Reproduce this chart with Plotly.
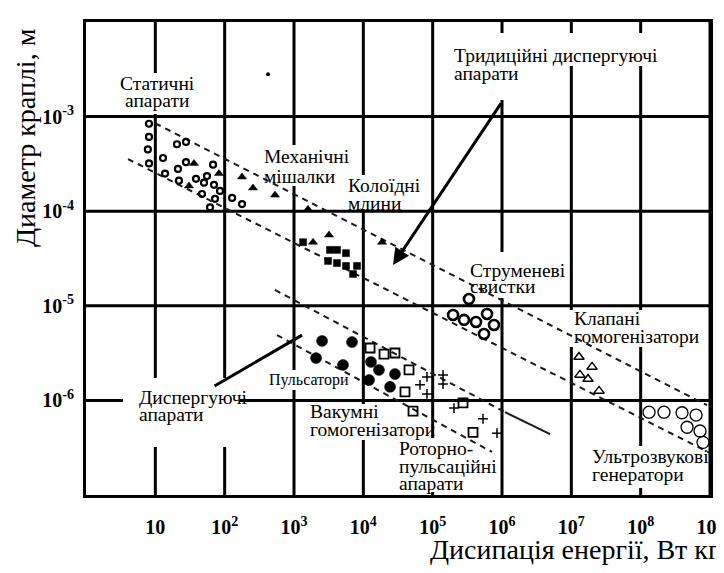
import numpy as np
import plotly.graph_objects as go

# ---------------- data ----------------
x_tickvals = [1e1, 1e2, 1e3, 1e4, 1e5, 1e6, 1e7, 1e8, 1e9]
x_ticktext = ["10", "10<sup>2</sup>", "10<sup>3</sup>", "10<sup>4</sup>", "10<sup>5</sup>",
              "10<sup>6</sup>", "10<sup>7</sup>", "10<sup>8</sup>", "10<sup>9</sup>"]
y_tickvals = [1e-6, 1e-5, 1e-4, 1e-3]
y_ticktext = ["10<sup>-6</sup>", "10<sup>-5</sup>", "10<sup>-4</sup>", "10<sup>-3</sup>"]

static_x = [8.1, 8.1, 7.8, 8.1, 20.5, 27.7, 12.9, 27.7, 68, 13.8, 21.2, 21.9, 38.6, 55.6,
            50.3, 70.2, 85.7, 47.1, 72.6, 61.5, 128, 178]
static_y = [8.4e-4, 6.1e-4, 4.5e-4, 3.2e-4, 5.1e-4, 5.4e-4, 3.65e-4, 3.3e-4, 3.1e-4, 2.5e-4,
            2.8e-4, 2.1e-4, 2.2e-4, 2.35e-4, 2.0e-4, 1.9e-4, 1.64e-4, 1.52e-4, 1.35e-4,
            1.1e-4, 1.38e-4, 1.19e-4]

mixer_x = [36.1, 82.8, 30.6, 178, 256, 532, 1590, 3200, 1880, 18600]
mixer_y = [3.2e-4, 2.5e-4, 1.85e-4, 2.3e-4, 1.76e-4, 1.48e-4, 1.05e-4, 5.6e-5, 4.7e-5, 4.7e-5]

mill_x = [1350, 3300, 4170, 5620, 3100, 4170, 5620, 8110, 7100]
mill_y = [4.7e-5, 3.9e-5, 3.9e-5, 3.6e-5, 2.98e-5, 2.83e-5, 2.64e-5, 2.64e-5, 2.17e-5]

pulsator_x = [2540, 6870, 2080, 5090, 12900, 16800, 28600, 12100, 24300]
pulsator_y = [4.25e-6, 4.14e-6, 2.8e-6, 2.37e-6, 2.55e-6, 2.1e-6, 1.9e-6, 1.64e-6, 1.39e-6]

vacuum_x = [12500, 19900, 28600, 45600, 39900, 52100, 2.74e5, 3.82e5]
vacuum_y = [3.58e-6, 3.09e-6, 3.17e-6, 2.1e-6, 1.23e-6, 7.7e-7, 9.4e-7, 4.6e-7]

rotor_x = [82800, 65700, 82800, 1.41e5, 1.41e5, 2.03e5, 5.32e5, 8.47e5]
rotor_y = [1.77e-6, 1.46e-6, 1.17e-6, 1.86e-6, 1.49e-6, 8.3e-7, 6.4e-7, 4.5e-7]

jet_x = [3.34e5, 1.97e5, 2.83e5, 4.22e5, 6.08e5, 7.67e5, 5.5e5]
jet_y = [1.18e-5, 8.0e-6, 7.1e-6, 6.75e-6, 8.2e-6, 6.27e-6, 5.04e-6]

valve_x = [1.29e7, 1.99e7, 1.33e7, 1.74e7, 2.51e7]
valve_y = [2.88e-6, 2.26e-6, 1.86e-6, 1.68e-6, 1.26e-6]

ultra_x = [1.32e8, 2.17e8, 3.95e8, 6.29e8, 4.67e8, 7.18e8, 7.93e8]
ultra_y = [7.5e-7, 7.5e-7, 7.4e-7, 7.0e-7, 5.2e-7, 4.75e-7, 3.6e-7]

speck_x = [422]
speck_y = [2.8e-3]

# band boundaries
trad_upper_x = [10, 9.06e8]
trad_upper_y = [8.5e-4, 8.9e-7]
trad_lower_x = [4.03, 1e9]
trad_lower_y = [3.56e-4, 2.78e-7]
disp_upper_x = [532, 1.11e6]
disp_upper_y = [1.47e-5, 7.5e-7]
disp_upper_solid_x = [1.11e6, 4.93e6]
disp_upper_solid_y = [7.5e-7, 4.4e-7]
disp_lower_x = [569, 7.18e5]
disp_lower_y = [4.9e-6, 2.85e-7]

# pointer arrows (tail -> head)
arrow_trad = dict(tail=(1.0e6, 1.43e-3), head=(2.68e4, 2.7e-5))
arrow_disp = dict(tail=(68, 1.39e-6), head=(1306, 4.9e-6))

# ---------------- figure ----------------
X_RANGE = (0, 9)      # log10 decades
Y_RANGE = (-7, -2)
PAGE_OFF = 8          # default body margin of the html page
W, H = 724 - PAGE_OFF, 573 - PAGE_OFF
L, R, T, B = 78, 14, 14, 78
PW, PH = W - L - R, H - T - B

SERIF = "Liberation Serif"

fig = go.Figure()


def pts(x, y, symbol, size, lw=1.5, color="black"):
    fig.add_trace(go.Scatter(x=x, y=y, mode="markers", showlegend=False, hoverinfo="skip",
                             marker=dict(symbol=symbol, size=size, color=color,
                                         line=dict(color="black", width=lw))))


def dline(x, y, dash="6px,5px", width=2):
    fig.add_trace(go.Scatter(x=x, y=y, mode="lines", showlegend=False, hoverinfo="skip",
                             line=dict(color="#1a1a1a", width=width, dash=dash)))


dline(trad_upper_x, trad_upper_y)
dline(trad_lower_x, trad_lower_y)
dline(disp_upper_x, disp_upper_y)
dline(disp_upper_solid_x, disp_upper_solid_y, dash="solid", width=2)
dline(disp_lower_x, disp_lower_y)

pts(static_x, static_y, "circle-open", 6, lw=2.2)
pts(mixer_x, mixer_y, "triangle-up", 8, lw=0.5)
pts(mill_x, mill_y, "square", 7, lw=0.5)
pts(pulsator_x, pulsator_y, "circle", 11, lw=0.5)
pts(vacuum_x, vacuum_y, "square-open", 9, lw=1.8)
pts(rotor_x, rotor_y, "cross-thin-open", 7, lw=1.5)
pts(jet_x, jet_y, "circle-open", 10, lw=2.6)
pts(valve_x, valve_y, "triangle-up-open", 9, lw=1.5)
pts(ultra_x, ultra_y, "circle-open", 12, lw=1.3)
pts(speck_x, speck_y, "circle", 4, lw=0)


def px2paper(px, py):
    """page pixel position -> paper (= axis domain) coordinates"""
    return (px - PAGE_OFF - L) / PW, (H - B - (py - PAGE_OFF)) / PH


# thick grid at every decade (drawn as shapes under the traces)
for v in x_tickvals:
    f = (np.log10(v) - X_RANGE[0]) / (X_RANGE[1] - X_RANGE[0])
    fig.add_shape(type="line", xref="x domain", yref="y domain", x0=f, x1=f, y0=0, y1=1,
                  line=dict(color="black", width=3), layer="below")
for v in y_tickvals:
    f = (np.log10(v) - Y_RANGE[0]) / (Y_RANGE[1] - Y_RANGE[0])
    fig.add_shape(type="line", xref="x domain", yref="y domain", x0=0, x1=1, y0=f, y1=f,
                  line=dict(color="black", width=3), layer="below")

# white patches where the grid is interrupted behind the labels
patches = [
    (118, 73, 197, 114),    # Статичні апарати
    (259, 145, 348, 186),   # Механічні мішалки
    (343, 175, 418, 209),   # Колоїдні млини
    (448, 33, 656, 66),     # Тридиційні диспергуючі
    (448, 66, 540, 100),    # апарати
    (465, 252, 565, 298),   # Струменеві свистки
    (569, 310, 697, 347),   # Клапані гомогенізатори
    (587, 446, 700, 488),   # Ультрозвукові генератори
    (264, 370, 346, 390),   # Пульсатори
    (305, 404, 423, 440),   # Вакумні гомогенізатори
    (394, 438, 492, 492),   # Роторно-пульсаційні апарати
    (123, 378, 240, 447),   # Диспергуючі апарати
]
for (ax0, ay0, ax1, ay1) in patches:
    x0, y1 = px2paper(ax0, ay0)
    x1, y0 = px2paper(ax1, ay1)
    fig.add_shape(type="rect", xref="x domain", yref="y domain", x0=x0, x1=x1, y0=y0, y1=y1,
                  fillcolor="white", line=dict(width=0), layer="below")

annotations = []
LABEL_SIZE = 19.5


def label(lines, x_px, baselines, size=LABEL_SIZE, anchor="left"):
    for text, bl in zip(lines, baselines):
        xp, yp = px2paper(x_px, bl - 0.33 * size)
        annotations.append(dict(text=text, xref="paper", yref="paper", x=xp, y=yp,
                                xanchor=anchor, yanchor="middle", showarrow=False,
                                font=dict(family=SERIF, size=size, color="black")))


label(["Статичні", "апарати"], 157, [90, 107], anchor="center")
label(["Механічні", "мішалки"], 262, [163, 183])
label(["Колоїдні", "млини"], 346, [192, 210])
label(["Тридиційні диспергуючі", "апарати"], 452, [62, 80])
label(["Струменеві", "свистки"], 468, [277, 293])
label(["Клапані", "гомогенізатори"], 572, [325, 343])
label(["Ультрозвукові", "генератори"], 590, [463, 481])
label(["Пульсатори"], 267, [385], size=16)
label(["Вакумні", "гомогенізатори"], 308, [418, 436])
label(["Роторно-", "пульсаційні", "апарати"], 397, [455, 473, 490])
label(["Диспергуючі", "апарати"], 137, [404, 421])

for arr, head in ((arrow_trad, 2), (arrow_disp, 0)):
    (tx, ty), (hx, hy) = arr["tail"], arr["head"]
    annotations.append(dict(text="", x=np.log10(hx), y=np.log10(hy), xref="x", yref="y",
                            ax=np.log10(tx), ay=np.log10(ty), axref="x", ayref="y",
                            showarrow=True, arrowhead=head, arrowsize=1.1, arrowwidth=3,
                            arrowcolor="black", standoff=0, startstandoff=0))

# axis titles
xp, yp = px2paper(25, 138)
annotations.append(dict(text="Диаметр краплі, м", xref="paper", yref="paper", x=xp, y=yp,
                        xanchor="center", yanchor="middle", textangle=-90, showarrow=False,
                        font=dict(family=SERIF, size=28, color="black")))
xp, yp = px2paper(428, 549)
annotations.append(dict(text="Дисипація енергії, Вт кг", xref="paper", yref="paper", x=xp, y=yp,
                        xanchor="left", yanchor="middle", showarrow=False,
                        font=dict(family=SERIF, size=28, color="black")))

axis_common = dict(type="log", showgrid=False,
                   showline=True, linecolor="black", linewidth=3, mirror=True,
                   zeroline=False, ticks="outside", tickcolor="rgba(0,0,0,0)",
                   tickfont=dict(family=SERIF, size=20, color="black", weight="bold"))

fig.update_xaxes(range=list(X_RANGE), tickvals=x_tickvals, ticktext=x_ticktext, ticklen=12,
                 **axis_common)
fig.update_yaxes(range=list(Y_RANGE), tickvals=y_tickvals, ticktext=y_ticktext, ticklen=5,
                 **axis_common)

fig.update_layout(width=W, height=H, margin=dict(l=L, r=R, t=T, b=B, autoexpand=False),
                  paper_bgcolor="white", plot_bgcolor="white", annotations=annotations,
                  showlegend=False)

fig.write_html("out.html")
